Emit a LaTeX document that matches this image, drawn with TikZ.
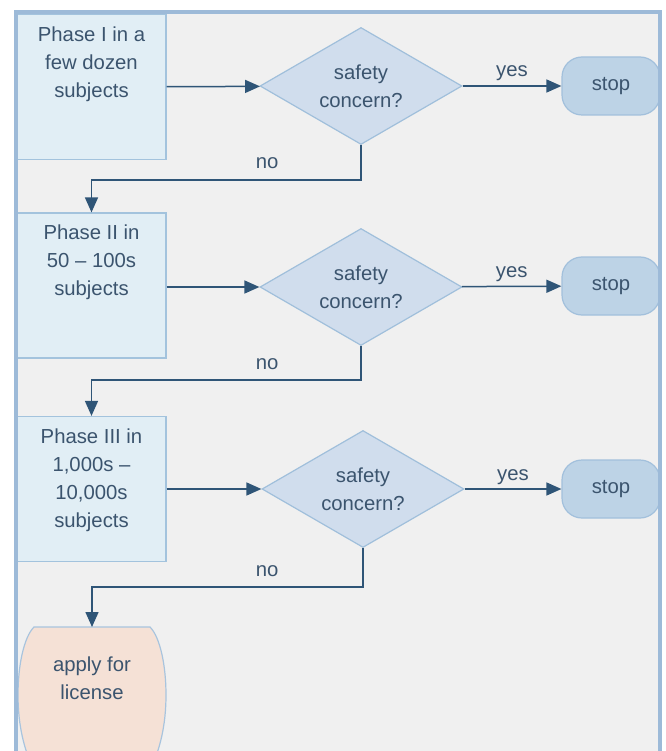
\documentclass[tikz,border=0pt]{standalone}
\usepackage{fontspec}
\setmainfont{Liberation Sans}
\usetikzlibrary{shapes.geometric,arrows.meta,calc}
\definecolor{pagebg}{HTML}{F0F0F0}
\definecolor{framec}{HTML}{9DBAD8}
\definecolor{boxfill}{HTML}{E1EEF5}
\definecolor{boxline}{HTML}{A3C3DD}
\definecolor{diafill}{HTML}{D0DDED}
\definecolor{dialine}{HTML}{A0BFDB}
\definecolor{stopfill}{HTML}{BDD3E6}
\definecolor{stopline}{HTML}{A2C0DC}
\definecolor{applyfill}{HTML}{F5E1D6}
\definecolor{applyline}{HTML}{A8C4DE}
\definecolor{arrowc}{HTML}{2F5577}
\definecolor{txt}{HTML}{3B546E}
\begin{document}
\begin{tikzpicture}[x=1pt,y=-1pt,
  every node/.style={text=txt, font=\fontsize{20.3}{28}\selectfont},
  phasebox/.style={rectangle, draw=boxline, fill=boxfill, line width=1.2pt, inner sep=0pt},
  decision/.style={diamond, aspect=1.73, draw=dialine, fill=diafill, line width=1.2pt,
    minimum width=202pt, minimum height=117pt, inner sep=0pt, align=center},
  stopbox/.style={rectangle, rounded corners=20pt, draw=stopline, fill=stopfill,
    line width=1.2pt, minimum width=98pt, minimum height=58pt},
  conn/.style={draw=arrowc, line width=1.5pt, -{Triangle[length=15pt,width=13pt]}},
  yeslbl/.style={anchor=base, yshift=9pt, inner sep=0pt},
  nolbl/.style={anchor=base, yshift=11pt, inner sep=0pt}
]
\useasboundingbox (0,0) rectangle (665,751);
\clip (0,0) rectangle (665,751);
\fill[pagebg] (15,12) rectangle (660,760);

% phase boxes, text set from the top
\newcommand{\phasetext}[1]{\parbox[t][145pt][t]{149pt}{\centering\vspace*{12pt}#1}}
\node[phasebox] (p1) at (91.5,87) {\phasetext{Phase I in a\\few dozen\\subjects}};
\node[phasebox] (p2) at (91.5,285.5) {\phasetext{Phase II in\\50 -- 100s\\subjects}};
\node[phasebox] (p3) at (91.5,489) {\phasetext{Phase III in\\1,000s --\\10,000s\\subjects}};

% decisions
\node[decision] (d1) at (361,86) {safety\\concern?};
\node[decision] (d2) at (361,287) {safety\\concern?};
\node[decision] (d3) at (363,489) {safety\\concern?};

% stop terminals
\node[stopbox] (s1) at (611,86) {stop};
\node[stopbox] (s2) at (611,286) {stop};
\node[stopbox] (s3) at (611,489) {stop};

% final terminal
\filldraw[fill=applyfill, draw=applyline, line width=1.2pt]
  (34,627) -- (150,627) .. controls (160,637) and (166,665) .. (166,695)
  .. controls (166,725) and (160,750) .. (150,770) -- (34,770)
  .. controls (24,750) and (18,725) .. (18,695)
  .. controls (18,665) and (24,637) .. (34,627) -- cycle;
\node[minimum width=148pt, minimum height=102pt, inner sep=0pt, anchor=north, align=center]
  (apply) at (92,627) {apply for\\license};

% connectors
\draw[conn] (p1) -- (d1);
\draw[conn] (p2.east |- d2.west) -- (d2);
\draw[conn] (p3) -- (d3);
\draw[conn] (d1) -- node[yeslbl]{yes} (s1);
\draw[conn] (d2) -- node[yeslbl]{yes} (s2);
\draw[conn] (d3) -- node[yeslbl]{yes} (s3);

\coordinate (n1) at (361,180);
\coordinate (n2) at (361,380);
\coordinate (n3) at (363,587);
\draw[conn] (d1.south) -- (n1) -| node[nolbl, pos=0.174]{no} (p2.north);
\draw[conn] (d2.south) -- (n2) -| node[nolbl, pos=0.174]{no} (p3.north);
\draw[conn] (d3.south) -- (n3) -| node[nolbl, pos=0.177]{no} (apply.north);

% outer frame
\draw[framec, line width=4pt] (15.5,760) -- (15.5,12) -- (659.5,12) -- (659.5,760);
\end{tikzpicture}
\end{document}
